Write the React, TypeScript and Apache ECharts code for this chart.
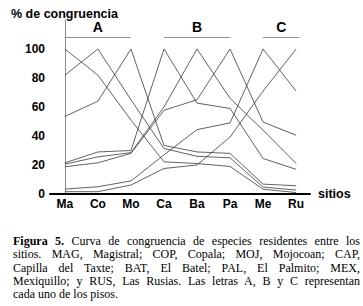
import React, { useEffect, useRef } from 'react';
import * as echarts from 'echarts';

const sites = ['Ma', 'Co', 'Mo', 'Ca', 'Ba', 'Pa', 'Me', 'Ru'];

const serMa = [100, 82, 51, 22.2, 21, 19, 3.3, 1];
const serCo = [82, 100, 65, 31.4, 26, 25, 4.8, 2.7];
const serMo = [53.5, 64, 100, 33.5, 29, 28, 6.8, 5.7];
const serCa = [21.5, 29, 30, 100, 62.7, 59, 24.5, 17];
const serBa = [20.6, 25.6, 28.5, 60, 100, 66, 44, 21];
const serPa = [18.8, 21.5, 28, 57.7, 65, 100, 49.6, 40.5];
const serMe = [3.4, 5, 9, 27, 44.4, 49, 100, 71];
const serRu = [1.6, 1.6, 6.2, 17.6, 20, 39.3, 71, 100];

const seriesNames = ['MAG', 'COP', 'MOJ', 'CAP', 'BAT', 'PAL', 'MEX', 'RUS'];
const seriesValues = [serMa, serCo, serMo, serCa, serBa, serPa, serMe, serRu];

const yTicks = [0, 20, 40, 60, 80, 100];

const groupNames = ['A', 'B', 'C'];
const groupFrom = [0, 3, 6];
const groupTo = [2, 5, 7.1];
const groupLevel = 108;

const captionBold = 'Figura 5.';
const captionLines = [
  ' Curva de congruencia de especies residentes entre los',
  'sitios. MAG, Magistral; COP, Copala; MOJ, Mojocoan; CAP,',
  'Capilla del Taxte; BAT, El Batel; PAL, El Palmito; MEX,',
  'Mexiquillo; y RUS, Las Rusias. Las letras A, B y C representan',
  'cada uno de los pisos.',
];

export default function App() {
  const ref = useRef<HTMLDivElement>(null);
  useEffect(() => {
    const chart = echarts.init(ref.current!, null, { renderer: 'svg' });
    const font = 'Liberation Sans, Arial, sans-serif';
    const series: any[] = seriesValues.map((vals, si) => ({
      name: seriesNames[si],
      type: 'line',
      data: vals.map((v, i) => [i, v]),
      symbol: 'none',
      lineStyle: { color: '#3a3a3a', width: 0.8 },
      silent: true,
    }));
    series[0].markLine = {
      silent: true,
      symbol: 'none',
      lineStyle: { color: '#777', width: 0.8, type: 'solid' },
      label: {
        show: true,
        position: 'insideMiddleTop',
        distance: 3,
        formatter: (p: any) => p.name,
        color: '#000',
        fontFamily: font,
        fontWeight: 'bold',
        fontSize: 14,
      },
      data: groupNames.map((g, i) => [
        { name: g, coord: [groupFrom[i], groupLevel] },
        { coord: [groupTo[i], groupLevel] },
      ]),
    };
    chart.setOption({
      animation: false,
      backgroundColor: '#fff',
      title: {
        text: '% de congruencia',
        left: 6,
        top: 2,
        textStyle: { fontFamily: font, fontWeight: 'bold', fontSize: 12.5, color: '#000' },
      },
      grid: { left: 50, right: 53, top: 20, bottom: 26 },
      xAxis: {
        type: 'value',
        min: -0.45,
        max: 7.42,
        name: 'sitios',
        nameLocation: 'end',
        nameGap: 8,
        nameTextStyle: { fontFamily: font, fontWeight: 'bold', fontSize: 12.5, color: '#000', verticalAlign: 'middle' },
        axisLine: { show: true, lineStyle: { color: '#000', width: 2 } },
        axisTick: { show: false },
        splitLine: { show: false },
        axisLabel: {
          customValues: sites.map((_, i) => i),
          formatter: (v: number) => sites[Math.round(v)] ?? '',
          fontFamily: font,
          fontWeight: 'bold',
          fontSize: 12,
          color: '#000',
          margin: 4,
        },
      },
      yAxis: {
        type: 'value',
        min: 0,
        max: 120,
        interval: 20,
        axisLine: { show: true, lineStyle: { color: '#888', width: 1 } },
        axisTick: { show: false },
        splitLine: { show: false },
        axisLabel: {
          customValues: yTicks,
          fontFamily: font,
          fontWeight: 'bold',
          fontSize: 12,
          color: '#000',
          margin: 5,
        },
      },
      series,
    });
    return () => chart.dispose();
  }, []);

  return (
    <div style={{ position: 'absolute', left: 0, top: 0, width: 363, height: 306, background: '#fff', overflow: 'hidden' }}>
      <div ref={ref} style={{ position: 'absolute', left: 0, top: 0, width: 363, height: 220 }} />
      <div
        style={{
          position: 'absolute',
          left: 13,
          top: 235,
          width: 347,
          fontFamily: '"Liberation Serif", "Times New Roman", serif',
          fontSize: 12,
          lineHeight: '13.3px',
          color: '#000',
        }}
      >
        {captionLines.map((line, i) => (
          <div
            key={i}
            style={{
              textAlign: i < captionLines.length - 1 ? 'justify' : 'left',
              textAlignLast: i < captionLines.length - 1 ? 'justify' : 'left',
              whiteSpace: 'nowrap',
            }}
          >
            {i === 0 ? <b>{captionBold}</b> : null}
            {line}
          </div>
        ))}
      </div>
    </div>
  );
}
